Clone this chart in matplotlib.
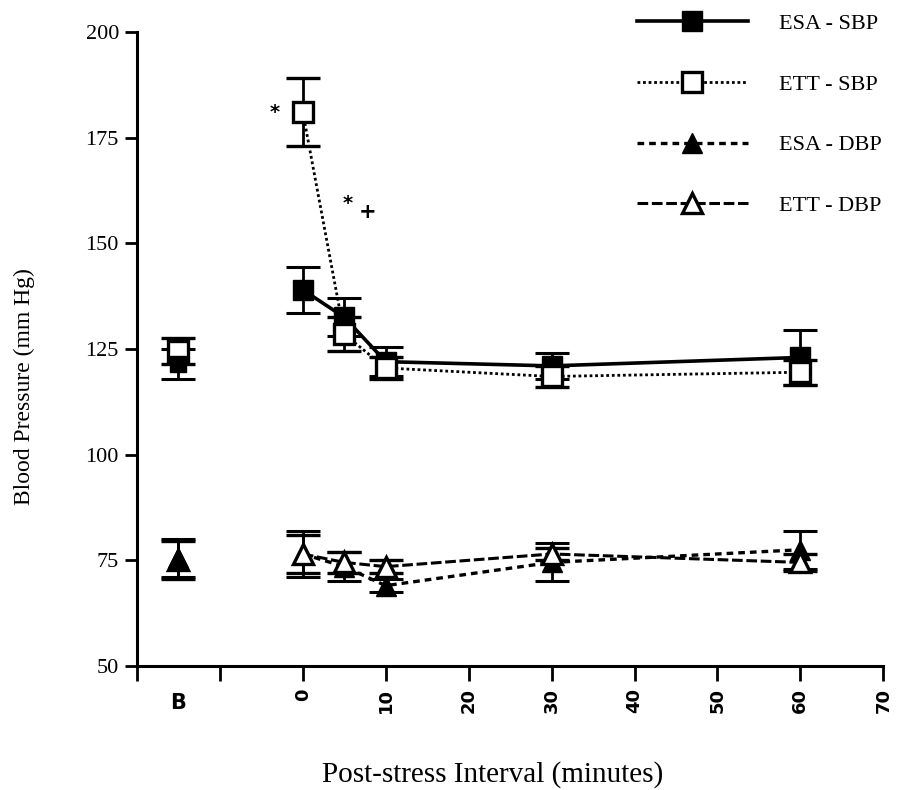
# Blood pressure after stress: ESA vs ETT, systolic and diastolic.
import matplotlib.pyplot as plt
from matplotlib.lines import Line2D

# Post-stress time points (minutes) and the baseline position on the x-axis.
times = [0, 5, 10, 30, 60]
base_x = -15

# Mean values (mm Hg).
esa_sbp = [139, 132.5, 122, 121, 123]
ett_sbp = [181, 128.5, 120.5, 118.5, 119.5]
esa_dbp = [76.5, 73.5, 69, 74.5, 77.5]
ett_dbp = [76.5, 74.5, 73.5, 76.5, 74.5]

# Baseline values.
esa_sbp_b = 121.5
ett_sbp_b = 124.5
esa_dbp_b = 75.5
ett_dbp_b = 75

# Error bars (standard error).
esa_sbp_err = [5.5, 4.5, 3.5, 3.0, 6.5]
ett_sbp_err = [8.0, 4.0, 2.5, 2.5, 3.0]
esa_dbp_err = [5.5, 3.5, 1.5, 4.5, 4.5]
ett_dbp_err = [4.5, 2.5, 1.5, 1.5, 2.0]
base_err = [3.5, 3.0, 4.5, 4.5]

# Axis tick labels.
x_ticks = [-20, -10, 0, 10, 20, 30, 40, 50, 60, 70]
x_tick_labels = ['', '', '0', '10', '20', '30', '40', '50', '60', '70']
y_ticks = [50, 75, 100, 125, 150, 175, 200]

fig = plt.figure(figsize=(8.97, 7.90), dpi=100)
ax = fig.add_axes([0.1527, 0.157, 0.832, 0.8025])

serif = 'Liberation Serif'
bar = dict(capsize=12, capthick=2.2, elinewidth=2.0, ecolor='black')

# Line styles for the four series.
st_esa_sbp = dict(color='black', lw=2.6, ls='-', marker='s', ms=14, mfc='black', mec='black')
st_ett_sbp = dict(color='black', lw=2.0, ls=(0, (1, 1)), marker='s', ms=14, mfc='white', mec='black', mew=2.4)
st_esa_dbp = dict(color='black', lw=2.4, ls=(0, (2, 1.5)), marker='^', ms=14, mfc='black', mec='black')
st_ett_dbp = dict(color='black', lw=2.2, ls=(0, (3.5, 1.2)), marker='^', ms=14, mfc='white', mec='black', mew=2.4)

# Systolic series.
ax.errorbar(times, esa_sbp, yerr=esa_sbp_err, **st_esa_sbp, **bar)
ax.errorbar(times, ett_sbp, yerr=ett_sbp_err, **st_ett_sbp, **bar)

# Diastolic series.
ax.errorbar(times, esa_dbp, yerr=esa_dbp_err, **st_esa_dbp, **bar)
ax.errorbar(times, ett_dbp, yerr=ett_dbp_err, **st_ett_dbp, **bar)

# Baseline points (not connected to the lines).
ax.errorbar([base_x], [ett_sbp_b], yerr=[base_err[1]], **dict(st_ett_sbp, ls='none'), **bar)
ax.errorbar([base_x], [esa_sbp_b], yerr=[base_err[0]], **dict(st_esa_sbp, ls='none', ms=12), **bar)
ax.errorbar([base_x], [ett_dbp_b], yerr=[base_err[3]], **dict(st_ett_dbp, ls='none'), **bar)
ax.errorbar([base_x], [esa_dbp_b], yerr=[base_err[2]], **dict(st_esa_dbp, ls='none'), **bar)

# Significance marks.
ax.text(-3.4, 181, '*', fontsize=14, fontweight='bold', ha='center', va='center')
ax.text(5.4, 159.5, '*', fontsize=14, fontweight='bold', ha='center', va='center')
ax.text(7.8, 157.5, '+', fontsize=15, fontweight='bold', ha='center', va='center')

# Axes styling.
ax.set_xlim(-20, 70)
ax.set_ylim(50, 200)
ax.spines['top'].set_visible(False)
ax.spines['right'].set_visible(False)
ax.spines['left'].set_linewidth(2.2)
ax.spines['bottom'].set_linewidth(2.2)
ax.set_xticks(x_ticks)
ax.set_xticklabels(x_tick_labels, rotation=90, fontsize=13, fontweight='bold')
ax.set_yticks(y_ticks)
ax.set_yticklabels([str(v) for v in y_ticks], fontsize=16, family=serif)
ax.tick_params(axis='x', length=11, width=2.0, direction='out', pad=5)
ax.tick_params(axis='y', length=9, width=2.0, direction='out', pad=4)

# "B" label for the baseline, not rotated.
ax.text(base_x, -0.058, 'B', transform=ax.get_xaxis_transform(), ha='center', va='center',
        fontsize=15, fontweight='bold')

ax.set_ylabel('Blood Pressure (mm Hg)', fontsize=17, family=serif)
ax.yaxis.set_label_coords(-0.137, 0.44)
ax.set_xlabel('Post-stress Interval (minutes)', fontsize=21, family=serif)
ax.xaxis.set_label_coords(0.476, -0.15)

# Legend in the upper right corner (line and marker only, no error bars).
handles = [Line2D([], [], **st_esa_sbp), Line2D([], [], **st_ett_sbp),
           Line2D([], [], **st_esa_dbp), Line2D([], [], **st_ett_dbp)]
labels = ['ESA - SBP', 'ETT - SBP', 'ESA - DBP', 'ETT - DBP']
fig.legend(handles, labels, loc='upper right', bbox_to_anchor=(1.005, 1.008), frameon=False,
           numpoints=1, handlelength=5.0, labelspacing=1.8, handletextpad=1.4,
           prop={'family': serif, 'size': 16})

fig.savefig('out.png', dpi=100)
